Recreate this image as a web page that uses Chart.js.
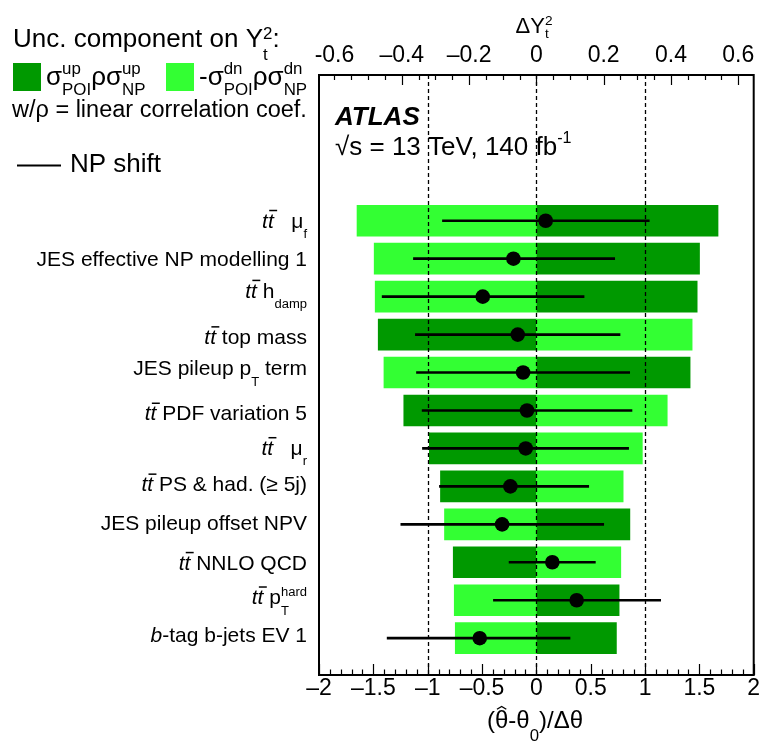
<!DOCTYPE html>
<html>
<head>
<meta charset="utf-8">
<script src="https://cdn.jsdelivr.net/npm/chart.js@4.4.1/dist/chart.umd.min.js"></script>
<style>
  html, body { margin: 0; padding: 0; background: #fff; }
</style>
</head>
<body>
<canvas id="c" width="761" height="753"></canvas>
<script>
// ---- data (top row first) ----
const rows = [0, 1, 2, 3, 4, 5, 6, 7, 8, 9, 10, 11];
// impact on Y_t^2 (top axis)
const impactUp = [0.540, 0.485, 0.478, -0.470, 0.457, -0.394, -0.318, -0.285, 0.278, -0.247, 0.246, 0.238];
const impactDn = [-0.533, -0.482, -0.479, 0.463, -0.453, 0.389, 0.315, 0.258, -0.273, 0.251, -0.244, -0.241];
// pulls (bottom axis)
const pull   = [0.086, -0.211, -0.493, -0.171, -0.122, -0.086, -0.098, -0.239, -0.315, 0.147, 0.371, -0.521];
const pullLo = [-0.864, -1.131, -1.419, -1.113, -1.103, -1.051, -1.048, -0.892, -1.247, -0.251, -0.395, -1.373];
const pullHi = [1.039, 0.721, 0.439, 0.770, 0.859, 0.880, 0.849, 0.482, 0.620, 0.543, 1.144, 0.310];

const bottomTicks = [-2, -1.5, -1, -0.5, 0, 0.5, 1, 1.5, 2];
const bottomTickLabels = ['\u20132', '\u20131.5', '\u20131', '\u20130.5', '0', '0.5', '1', '1.5', '2'];
const topTicks = [-0.6, -0.4, -0.2, 0, 0.2, 0.4, 0.6];
const topTickLabels = ['-0.6', '\u20130.4', '\u20130.2', '0', '0.2', '0.4', '0.6'];
const refLines = [-1, 0, 1];

// rich text pieces
const N = t => ({ k: 'n', t }), I = t => ({ k: 'i', t }), TB = t => ({ k: 'bar', t });
const SB = t => ({ k: 'sub', t }), SP = t => ({ k: 'sup', t }), SS = (t, u) => ({ k: 'ss', t, u });
const H = t => ({ k: 'hat', t }), BI = t => ({ k: 'bi', t });
const TT = [I('t'), TB('t')];

const npLabels = [
  [...TT, N('   \u03bc'), SB('f')],
  [N('JES effective NP modelling 1')],
  [...TT, N(' h'), SB('damp')],
  [...TT, N(' top mass')],
  [N('JES pileup p'), SB('T'), N(' term')],
  [...TT, N(' PDF variation 5')],
  [...TT, N('   \u03bc'), SB('r')],
  [...TT, N(' PS & had. (\u2265 5j)')],
  [N('JES pileup offset NPV')],
  [...TT, N(' NNLO QCD')],
  [...TT, N(' p'), SS('T', 'hard')],
  [I('b'), N('-tag b-jets EV 1')]
];
// baseline nudge of each label relative to its row centre (layout)
const labelDy = [7, 7, 1, 9.5, 2.5, 10, 6.5, 5, 5.7, 7.5, 4, 3.5];

const FONT = '"Liberation Sans", Arial, Helvetica, sans-serif';
const DARK = '#009900', LIGHT = '#33ff33';

function fnt(size, style) { return (style || '') + ' ' + size + 'px ' + FONT; }
function styleOf(k) { return (k === 'i' || k === 'bar') ? 'italic' : (k === 'bi' ? 'italic bold' : ''); }

function segWidth(c, s, size, o) {
  const small = size * o.scale;
  if (s.k === 'sub' || s.k === 'sup') { c.font = fnt(small); return c.measureText(s.t).width; }
  if (s.k === 'ss') { c.font = fnt(small); return Math.max(c.measureText(s.t).width, c.measureText(s.u).width); }
  c.font = fnt(size, styleOf(s.k));
  return c.measureText(s.t).width;
}

function drawRich(c, segs, x, y, size, align, opt) {
  const o = Object.assign({ scale: 0.62, sub: 0.5, sup: -0.38 }, opt);
  const w = segs.map(s => segWidth(c, s, size, o));
  const total = w.reduce((a, b) => a + b, 0);
  let cx = align === 'right' ? x - total : align === 'center' ? x - total / 2 : x;
  c.textAlign = 'left';
  c.textBaseline = 'alphabetic';
  c.fillStyle = '#000';
  c.strokeStyle = '#000';
  segs.forEach((s, i) => {
    const small = size * o.scale;
    if (s.k === 'sub') {
      c.font = fnt(small); c.fillText(s.t, cx, y + o.sub * size);
    } else if (s.k === 'sup') {
      c.font = fnt(small); c.fillText(s.t, cx, y + o.sup * size);
    } else if (s.k === 'ss') {
      c.font = fnt(small);
      c.fillText(s.t, cx, y + o.sub * size);
      c.fillText(s.u, cx, y + o.sup * size);
    } else {
      c.font = fnt(size, styleOf(s.k));
      c.fillText(s.t, cx, y);
      if (s.k === 'bar') {
        c.lineWidth = 1.5;
        c.beginPath();
        c.moveTo(cx + 0.06 * size, y - 0.82 * size);
        c.lineTo(cx + w[i] + 0.16 * size, y - 0.82 * size);
        c.stroke();
      }
      if (s.k === 'hat') {
        c.lineWidth = 1.3;
        c.beginPath();
        c.moveTo(cx + 0.15 * w[i], y - 0.78 * size);
        c.lineTo(cx + 0.5 * w[i], y - 0.9 * size);
        c.lineTo(cx + 0.85 * w[i], y - 0.78 * size);
        c.stroke();
      }
    }
    cx += w[i];
  });
}

const decor = {
  id: 'decor',
  afterDatasetDraw(chart, args) {
    if (chart.data.datasets[args.index].label !== 'dn') return;
    const { ctx: c, chartArea: a, scales: { x } } = chart;
    c.save();
    c.setLineDash([4, 3]);
    c.lineWidth = 1.3;
    c.strokeStyle = '#000';
    refLines.forEach(v => {
      const px = Math.round(x.getPixelForValue(v)) + 0.5;
      c.beginPath(); c.moveTo(px, a.top); c.lineTo(px, a.bottom); c.stroke();
    });
    c.restore();
  },
  afterDraw(chart) {
    const { ctx: c, chartArea: a, scales: { x, x2, y } } = chart;
    c.save();
    // frame
    c.strokeStyle = '#000';
    c.lineWidth = 2;
    c.strokeRect(a.left, a.top, a.right - a.left, a.bottom - a.top);
    // inward ticks
    c.lineWidth = 1.2;
    c.beginPath();
    for (let k = -20; k <= 20; k++) {
      const px = Math.round(x.getPixelForValue(k / 10)) + 0.5;
      const len = k % 5 === 0 ? 11 : 5.5;
      c.moveTo(px, a.bottom); c.lineTo(px, a.bottom - len);
    }
    for (let k = -12; k <= 12; k++) {
      const px = Math.round(x2.getPixelForValue(k * 0.05)) + 0.5;
      const len = (k % 4 === 0 && k !== -12) ? 10 : 5;
      c.moveTo(px, a.top); c.lineTo(px, a.top + len);
    }
    c.stroke();

    // NP names
    npLabels.forEach((segs, i) => {
      drawRich(c, segs, 307, y.getPixelForValue(rows[i]) + labelDy[i], 21, 'right', { sub: 0.5, sup: -0.38 });
    });

    // axis titles
    drawRich(c, [N('\u0394Y'), SS('t', '2')], 534, 33, 22, 'center', { sub: 0.23, sup: -0.36, scale: 0.62 });
    drawRich(c, [N('('), H('\u03b8'), N('-\u03b8'), SB('0'), N(')/\u0394\u03b8')], 535, 728, 24, 'center', { sub: 0.55, scale: 0.7 });

    // legend block
    drawRich(c, [N('Unc. component on Y'), SS('t', '2'), N(':')], 13, 46.7, 26, 'left', { sub: 0.5, sup: -0.28, scale: 0.65 });
    c.fillStyle = DARK; c.fillRect(13, 63, 28, 28);
    c.fillStyle = LIGHT; c.fillRect(166, 63, 28, 28);
    const lo = { sub: 0.38, sup: -0.42, scale: 0.65 };
    drawRich(c, [N('\u03c3'), SS('POI', 'up'), N('\u03c1\u03c3'), SS('NP', 'up')], 46, 85, 26, 'left', lo);
    drawRich(c, [N('-\u03c3'), SS('POI', 'dn'), N('\u03c1\u03c3'), SS('NP', 'dn')], 199, 85, 26, 'left', lo);
    drawRich(c, [N('w/\u03c1 = linear correlation coef.')], 12, 117, 23.5, 'left');
    c.strokeStyle = '#000'; c.lineWidth = 2;
    c.beginPath(); c.moveTo(17, 165.5); c.lineTo(61, 165.5); c.stroke();
    drawRich(c, [N('NP shift')], 70, 172, 26, 'left');

    // ATLAS label
    drawRich(c, [BI('ATLAS')], 335, 125, 26, 'left');
    drawRich(c, [N('\u221as = 13 TeV, 140 fb'), SP('-1')], 335, 155, 26, 'left', { sup: -0.45, scale: 0.62 });
    c.restore();
  }
};

new Chart(document.getElementById('c'), {
  type: 'bar',
  data: {
    datasets: [
      {
        label: 'pull', type: 'scatter', order: 0,
        data: rows.map((r, i) => ({ x: pull[i], y: r })),
        xAxisID: 'x', yAxisID: 'y',
        pointRadius: 7.3, backgroundColor: '#000', borderWidth: 0
      },
      {
        label: 'err', type: 'bar', indexAxis: 'y', order: 1, grouped: false,
        data: rows.map((r, i) => ({ x: [pullLo[i], pullHi[i]], y: r })),
        xAxisID: 'x', yAxisID: 'y',
        backgroundColor: '#000', barThickness: 2
      },
      {
        label: 'dn', type: 'bar', indexAxis: 'y', order: 2, grouped: false,
        data: rows.map((r, i) => ({ x: [0, impactDn[i]], y: r })),
        xAxisID: 'x2', yAxisID: 'y',
        backgroundColor: LIGHT, barThickness: 31
      },
      {
        label: 'up', type: 'bar', indexAxis: 'y', order: 3, grouped: false,
        data: rows.map((r, i) => ({ x: [0, impactUp[i]], y: r })),
        xAxisID: 'x2', yAxisID: 'y',
        backgroundColor: DARK, barThickness: 31
      }
    ]
  },
  options: {
    responsive: false,
    animation: false,
    layout: { padding: { left: 319, right: 7, top: 0, bottom: 0 } },
    plugins: { legend: { display: false }, tooltip: { enabled: false } },
    scales: {
      x: {
        type: 'linear', position: 'bottom', min: -2, max: 2, offset: false,
        grid: { display: false, drawTicks: false, offset: false }, border: { display: false },
        afterBuildTicks: s => { s.ticks = bottomTicks.map(v => ({ value: v })); },
        afterFit: s => { s.height = 78; },
        ticks: {
          padding: 0, color: '#000', maxRotation: 0, autoSkip: false,
          font: { family: FONT, size: 23 },
          callback: (v, i) => bottomTickLabels[i]
        }
      },
      x2: {
        type: 'linear', position: 'top', min: -0.646, max: 0.646, offset: false,
        grid: { display: false, drawTicks: false, offset: false }, border: { display: false },
        afterBuildTicks: s => { s.ticks = topTicks.map(v => ({ value: v })); },
        afterFit: s => { s.height = 75; },
        ticks: {
          padding: 6, color: '#000', maxRotation: 0, autoSkip: false,
          font: { family: FONT, size: 23 },
          callback: (v, i) => topTickLabels[i]
        }
      },
      y: {
        type: 'linear', display: false, reverse: true, min: -3.84, max: 11.97,
        offset: false, grid: { offset: false }
      }
    }
  },
  plugins: [decor]
});
</script>
</body>
</html>
